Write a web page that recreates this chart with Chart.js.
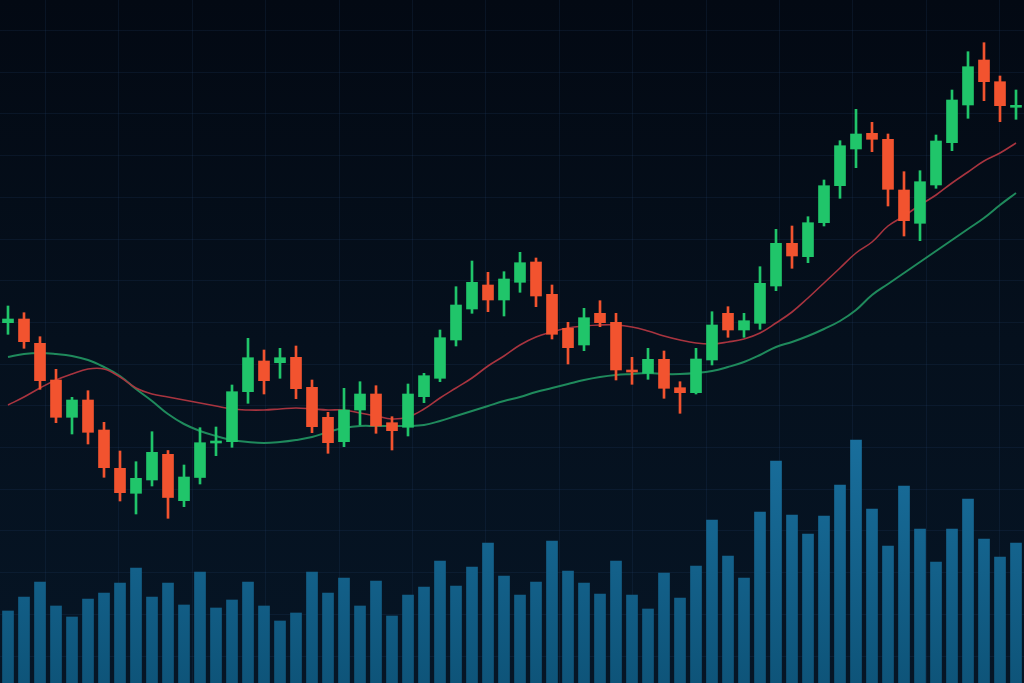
<!DOCTYPE html>
<html>
<head>
<meta charset="utf-8">
<script src="https://cdn.jsdelivr.net/npm/chart.js@4/dist/chart.umd.min.js"></script>
<style>
  html, body { margin:0; padding:0; background:#050c18; overflow:hidden; }
  #c { display:block; }
</style>
</head>
<body>
<canvas id="c" width="1024" height="683"></canvas>
<script>
// ---- data ----
const categories = Array.from({length: 64}, (_, i) => 'T' + (i + 1));

const opens = [37.73, 38.10, 35.67, 32.00, 28.27, 30.00, 27.00, 23.17, 20.67, 22.00,
  24.57, 19.93, 22.25, 25.70, 25.83, 30.83, 33.90, 33.73, 34.27, 31.27,
  28.27, 25.83, 29.00, 30.60, 27.73, 27.27, 30.33, 32.17, 36.00, 39.10,
  41.50, 40.00, 41.77, 43.80, 40.57, 37.17, 35.50, 38.67, 37.77, 33.00,
  32.67, 34.07, 31.23, 30.73, 34.00, 38.67, 37.00, 37.67, 41.40, 45.67,
  44.33, 47.73, 51.43, 55.10, 56.67, 56.07, 51.00, 47.67, 51.50, 55.73,
  59.50, 64.00, 61.83, 59.27];

const highs = [39.40, 38.73, 36.33, 33.07, 30.27, 30.93, 27.77, 24.90, 23.83, 26.83,
  24.95, 23.50, 27.23, 27.30, 31.50, 36.17, 35.00, 35.17, 35.40, 32.00,
  28.77, 31.17, 31.83, 31.43, 28.33, 31.60, 32.67, 37.00, 41.33, 43.90,
  42.77, 42.83, 44.77, 44.20, 41.50, 37.77, 39.17, 39.93, 38.67, 34.27,
  35.17, 34.90, 31.83, 35.17, 38.83, 39.33, 38.67, 43.33, 47.07, 47.40,
  48.33, 52.00, 55.93, 59.07, 57.77, 56.60, 52.83, 52.93, 56.50, 61.00,
  64.83, 65.73, 62.40, 61.00];

const lows = [36.57, 35.17, 31.07, 27.73, 26.60, 25.60, 22.27, 19.90, 18.60, 21.40,
  18.17, 19.33, 21.60, 24.43, 25.27, 29.67, 30.60, 32.17, 30.13, 26.73,
  24.67, 25.33, 27.50, 26.67, 25.00, 26.40, 29.73, 31.83, 35.40, 38.67,
  38.83, 38.40, 40.77, 39.33, 36.10, 33.60, 34.93, 37.33, 32.00, 31.57,
  32.07, 30.17, 28.67, 30.60, 33.50, 36.27, 36.27, 37.07, 40.93, 43.17,
  43.73, 47.40, 50.17, 53.23, 54.83, 49.40, 46.40, 45.93, 51.17, 54.93,
  58.17, 59.93, 57.83, 58.07];

const closes = [38.10, 35.83, 31.93, 28.27, 30.00, 26.77, 23.23, 20.73, 22.17, 24.77,
  20.25, 22.30, 25.73, 25.85, 30.83, 34.23, 31.93, 34.23, 31.13, 27.33,
  25.73, 29.00, 30.60, 27.40, 26.93, 30.60, 32.43, 36.23, 39.50, 41.77,
  40.00, 42.10, 43.73, 40.40, 36.57, 35.23, 38.23, 37.73, 33.00, 32.80,
  34.07, 31.17, 30.73, 34.10, 37.50, 37.00, 37.93, 41.67, 45.67, 44.40,
  47.73, 51.43, 55.43, 56.60, 56.07, 51.07, 47.93, 51.83, 55.90, 60.00,
  63.33, 61.83, 59.43, 59.40];

const maFast = [29.5, 30.3, 31.2, 32.0, 32.6, 33.1, 33.1, 32.3, 31.2, 30.6,
  30.3, 30.0, 29.7, 29.4, 29.1, 29.0, 29.0, 29.1, 29.2, 29.1,
  29.0, 29.0, 28.7, 28.4, 28.1, 28.3, 29.1, 30.2, 31.2, 32.2,
  33.4, 34.4, 35.5, 36.3, 36.8, 37.2, 37.4, 37.5, 37.5, 37.3,
  36.9, 36.4, 36.0, 35.7, 35.6, 35.8, 36.1, 36.7, 37.7, 38.8,
  40.2, 41.7, 43.2, 44.7, 45.8, 47.4, 48.4, 49.5, 50.5, 51.7,
  52.8, 53.9, 54.7, 55.7];

const maSlow = [34.3, 34.6, 34.7, 34.6, 34.4, 34.0, 33.3, 32.4, 31.1, 29.9,
  28.6, 27.6, 26.9, 26.4, 26.0, 25.8, 25.7, 25.8, 26.0, 26.3,
  26.8, 27.2, 27.4, 27.4, 27.4, 27.4, 27.5, 27.9, 28.4, 28.9,
  29.4, 29.9, 30.3, 30.8, 31.2, 31.6, 32.0, 32.3, 32.5, 32.6,
  32.7, 32.6, 32.6, 32.7, 32.9, 33.3, 33.8, 34.5, 35.3, 35.8,
  36.4, 37.1, 37.9, 39.0, 40.5, 41.6, 42.7, 43.8, 44.9, 46.0,
  47.1, 48.2, 49.5, 50.7];

const volume = [72, 86, 101, 77, 66, 84, 90, 100, 115, 86,
  100, 78, 111, 75, 83, 101, 77, 62, 70, 111,
  90, 105, 77, 102, 67, 88, 96, 122, 97, 116,
  140, 107, 88, 101, 142, 112, 100, 89, 122, 88,
  74, 110, 85, 117, 163, 127, 105, 171, 222, 168,
  149, 167, 198, 243, 174, 137, 197, 154, 121, 154,
  184, 144, 126, 140];

// ---- styles ----
const UP = '#20c56a', DOWN = '#f2532f';
const candleColors = opens.map((o, i) => closes[i] >= o ? UP : DOWN);

const backgroundPlugin = {
  id: 'bg',
  beforeDraw(chart) {
    const c = chart.ctx, w = chart.width, h = chart.height;
    c.save();
    const g = c.createLinearGradient(0, 0, 0, h);
    g.addColorStop(0, '#030913');
    g.addColorStop(0.5, '#05101d');
    g.addColorStop(1, '#061525');
    c.fillStyle = g;
    c.fillRect(0, 0, w, h);
    c.strokeStyle = 'rgba(40,70,115,0.18)';
    c.lineWidth = 1;
    c.beginPath();
    for (let x = 45; x < w; x += 73.4) { const px = Math.round(x) + 0.5; c.moveTo(px, 0); c.lineTo(px, h); }
    for (let y = 30; y < h; y += 41.7) { const py = Math.round(y) + 0.5; c.moveTo(0, py); c.lineTo(w, py); }
    c.stroke();
    c.restore();
  }
};

let volGrad = null;
function volumeColor(ctx) {
  const chart = ctx.chart;
  if (!chart.chartArea) return '#135f88';
  if (!volGrad) {
    const top = chart.scales.yv.getPixelForValue(250);
    const bottom = chart.chartArea.bottom;
    volGrad = chart.ctx.createLinearGradient(0, top, 0, bottom);
    volGrad.addColorStop(0, '#196f9d');
    volGrad.addColorStop(1, '#0e5479');
  }
  return volGrad;
}

new Chart(document.getElementById('c'), {
  data: {
    labels: categories,
    datasets: [
      { type: 'bar', label: 'Volume', data: volume, yAxisID: 'yv',
        backgroundColor: volumeColor, barThickness: 11, grouped: false, order: 10 },
      { type: 'line', label: 'MA slow', data: maSlow, yAxisID: 'y',
        borderColor: '#1f8a5c', borderWidth: 2, pointRadius: 0, tension: 0.4, order: 8 },
      { type: 'line', label: 'MA fast', data: maFast, yAxisID: 'y',
        borderColor: '#a8343f', borderWidth: 1.6, pointRadius: 0, tension: 0.4, order: 7 },
      { type: 'bar', label: 'Wick', data: lows.map((l, i) => [l, highs[i]]), yAxisID: 'y',
        backgroundColor: candleColors, barThickness: 2, grouped: false, order: 3 },
      { type: 'bar', label: 'Body', data: opens.map((o, i) => [o, closes[i]]), yAxisID: 'y',
        backgroundColor: candleColors, barThickness: 11, grouped: false, minBarLength: 2, order: 2 }
    ]
  },
  options: {
    responsive: false,
    animation: false,
    layout: { padding: 0 },
    plugins: { legend: { display: false }, tooltip: { enabled: false } },
    scales: {
      x: { display: false, offset: true, grid: { display: false } },
      y: { display: false, min: 1.7, max: 70 },
      yv: { display: false, min: 0, max: 683, position: 'right' }
    }
  },
  plugins: [backgroundPlugin]
});
</script>
</body>
</html>
